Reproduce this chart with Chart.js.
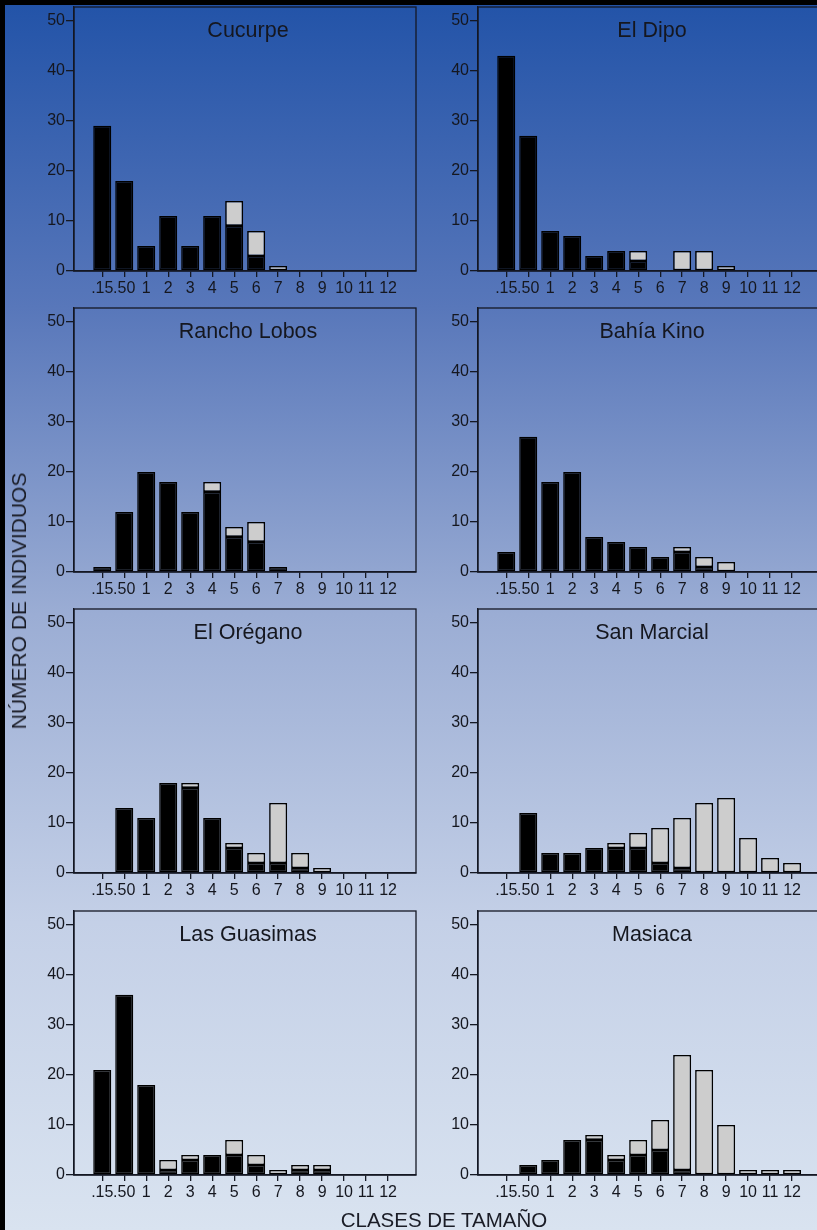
<!DOCTYPE html>
<html>
<head>
<meta charset="utf-8">
<script src="https://cdn.jsdelivr.net/npm/chart.js@4.4.1/dist/chart.umd.min.js"></script>
<style>
  html, body { margin: 0; padding: 0; }
  body {
    width: 817px; height: 1230px; overflow: hidden; position: relative;
    background: linear-gradient(to bottom, #2253a8 0%, #5877ba 25%, #9badd4 50%, #c4d0e7 75%, #d9e3f0 100%);
    font-family: "Liberation Sans", Arial, sans-serif;
  }
  canvas { position: absolute; }
  .edge { position: absolute; background: #000; z-index: 5; }
  .axis-title { position: absolute; white-space: nowrap; color: #1a1c26; font-size: 21px; z-index: 4; }
  #ytitle { left: 18.5px; top: 601px; transform: translate(-50%, -50%) rotate(-90deg); }
  #xtitle { left: 444px; top: 1220px; transform: translate(-50%, -50%); font-size: 20.5px; }
</style>
</head>
<body>
<div class="edge" style="left:0;top:0;width:817px;height:5px"></div>
<div class="edge" style="left:0;top:0;width:5px;height:1230px"></div>
<div class="axis-title" id="ytitle">NÚMERO DE INDIVIDUOS</div>
<div class="axis-title" id="xtitle">CLASES DE TAMAÑO</div>
<script>
// Size classes on the horizontal axis and the count ticks on the vertical axis
const sizeClasses = ['.15', '.50', '1', '2', '3', '4', '5', '6', '7', '8', '9', '10', '11', '12'];
const countTicks = [0, 10, 20, 30, 40, 50];
const sites = ['Cucurpe', 'El Dipo', 'Rancho Lobos', 'Bahía Kino', 'El Orégano', 'San Marcial', 'Las Guasimas', 'Masiaca'];

// Each bar is split into a dark lower part and a light upper part
const cucurpeDark      = [29, 18, 5, 11, 5, 11, 9, 3, 0, 0, 0, 0, 0, 0];
const cucurpeLight     = [0, 0, 0, 0, 0, 0, 5, 5, 1, 0, 0, 0, 0, 0];
const elDipoDark       = [43, 27, 8, 7, 3, 4, 2, 0, 0, 0, 0, 0, 0, 0];
const elDipoLight      = [0, 0, 0, 0, 0, 0, 2, 0, 4, 4, 1, 0, 0, 0];
const ranchoLobosDark  = [1, 12, 20, 18, 12, 16, 7, 6, 1, 0, 0, 0, 0, 0];
const ranchoLobosLight = [0, 0, 0, 0, 0, 2, 2, 4, 0, 0, 0, 0, 0, 0];
const bahiaKinoDark    = [4, 27, 18, 20, 7, 6, 5, 3, 4, 1, 0, 0, 0, 0];
const bahiaKinoLight   = [0, 0, 0, 0, 0, 0, 0, 0, 1, 2, 2, 0, 0, 0];
const elOreganoDark    = [0, 13, 11, 18, 17, 11, 5, 2, 2, 1, 0, 0, 0, 0];
const elOreganoLight   = [0, 0, 0, 0, 1, 0, 1, 2, 12, 3, 1, 0, 0, 0];
const sanMarcialDark   = [0, 12, 4, 4, 5, 5, 5, 2, 1, 0, 0, 0, 0, 0];
const sanMarcialLight  = [0, 0, 0, 0, 0, 1, 3, 7, 10, 14, 15, 7, 3, 2];
const lasGuasimasDark  = [21, 36, 18, 1, 3, 4, 4, 2, 0, 1, 1, 0, 0, 0];
const lasGuasimasLight = [0, 0, 0, 2, 1, 0, 3, 2, 1, 1, 1, 0, 0, 0];
const masiacaDark      = [0, 2, 3, 7, 7, 3, 4, 5, 1, 0, 0, 0, 0, 0];
const masiacaLight     = [0, 0, 0, 0, 1, 1, 3, 6, 23, 21, 10, 1, 1, 1];

const darkSeries  = [cucurpeDark, elDipoDark, ranchoLobosDark, bahiaKinoDark, elOreganoDark, sanMarcialDark, lasGuasimasDark, masiacaDark];
const lightSeries = [cucurpeLight, elDipoLight, ranchoLobosLight, bahiaKinoLight, elOreganoLight, sanMarcialLight, lasGuasimasLight, masiacaLight];

// Panel placement
const FONT = '"Liberation Sans", Arial, sans-serif';
const INK = '#15171f';
const LINE = '#141824';
const CANVAS_W = 440, CANVAS_H = 320;
const PAD_TOP = 20, Y_AXIS_W = 74, X_AXIS_H = 36, PAD_RIGHT = 24;
const columnLeft = [0, 404];
const frameTops = [7, 307.5, 609, 911];

// Frame around the plot area and the site name inside it
const panelFrame = {
  id: 'panelFrame',
  afterDraw(chart, args, opts) {
    const { ctx, chartArea: a } = chart;
    ctx.save();
    ctx.strokeStyle = LINE;
    ctx.lineWidth = 1.3;
    ctx.strokeRect(a.left, a.top, a.right - a.left, a.bottom - a.top);
    ctx.fillStyle = INK;
    ctx.font = '21.5px ' + FONT;
    ctx.textAlign = 'center';
    ctx.textBaseline = 'middle';
    ctx.fillText(opts.text, (a.left + a.right) / 2 + 3, a.top + 24);
    ctx.restore();
  }
};

function makePanel(idx) {
  const col = idx % 2, row = Math.floor(idx / 2);
  const canvas = document.createElement('canvas');
  canvas.width = CANVAS_W;
  canvas.height = CANVAS_H;
  canvas.style.left = columnLeft[col] + 'px';
  canvas.style.top = (frameTops[row] - PAD_TOP) + 'px';
  document.body.appendChild(canvas);

  const toPoints = arr => arr.map((v, i) => ({ x: i, y: v }));

  new Chart(canvas, {
    type: 'bar',
    data: {
      datasets: [
        {
          data: toPoints(darkSeries[idx]),
          backgroundColor: '#000000',
          borderColor: '#000000',
          borderWidth: 1.5,
          borderSkipped: false,
          barPercentage: 0.82,
          categoryPercentage: 1.0
        },
        {
          data: toPoints(lightSeries[idx]),
          backgroundColor: '#cdcdcd',
          borderColor: '#000000',
          borderWidth: 1.6,
          borderSkipped: false,
          barPercentage: 0.82,
          categoryPercentage: 1.0
        }
      ]
    },
    options: {
      responsive: false,
      animation: false,
      events: [],
      layout: { padding: { top: PAD_TOP, right: PAD_RIGHT, left: 0, bottom: 0 } },
      plugins: {
        legend: { display: false },
        tooltip: { enabled: false },
        panelFrame: { text: sites[idx] }
      },
      scales: {
        x: {
          type: 'linear',
          stacked: true,
          min: -1.285,
          max: 14.27,
          offset: false,
          afterBuildTicks: s => { s.ticks = sizeClasses.map((_, i) => ({ value: i })); },
          afterFit: s => { s.height = X_AXIS_H; },
          ticks: {
            autoSkip: false, maxRotation: 0, minRotation: 0,
            padding: 2,
            color: INK,
            font: { family: FONT, size: 16 },
            callback: (v, i) => sizeClasses[i]
          },
          grid: { offset: false, drawOnChartArea: false, drawTicks: true, tickLength: 6, color: LINE, lineWidth: 1.3 },
          border: { display: true, color: LINE, width: 1.4 }
        },
        y: {
          type: 'linear',
          stacked: true,
          min: 0,
          max: 52.75,
          afterBuildTicks: s => { s.ticks = countTicks.map(v => ({ value: v })); },
          afterFit: s => { s.width = Y_AXIS_W; },
          ticks: {
            padding: 1,
            color: INK,
            font: { family: FONT, size: 16 }
          },
          grid: { drawOnChartArea: false, drawTicks: true, tickLength: 8, color: LINE, lineWidth: 1.3 },
          border: { display: true, color: LINE, width: 1.3 }
        }
      }
    },
    plugins: [panelFrame]
  });
}

for (let i = 0; i < sites.length; i++) makePanel(i);
</script>
</body>
</html>
